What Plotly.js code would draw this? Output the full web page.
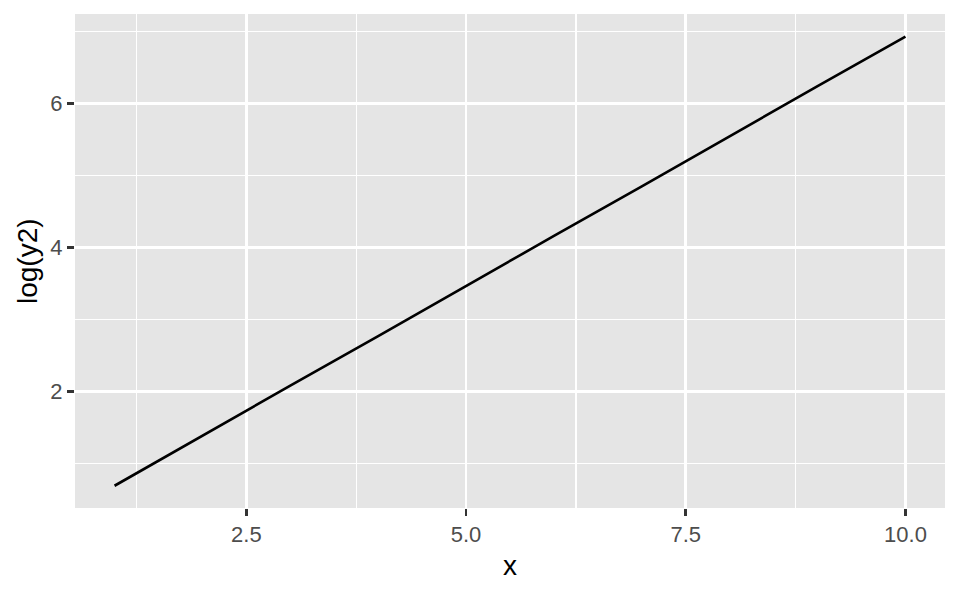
<!DOCTYPE html>
<html>
<head>
<meta charset="utf-8">
<script src="https://cdn.plot.ly/plotly-3.0.1.min.js"></script>
<style>html,body{margin:0;padding:0;background:#fff;}#chart{width:960px;height:593px;}</style>
</head>
<body>
<div id="chart"></div>
<script>
var xValues = [1, 2, 3, 4, 5, 6, 7, 8, 9, 10];
var logY2Values = [0.69, 1.39, 2.08, 2.77, 3.47, 4.16, 4.85, 5.55, 6.24, 6.93];
var xTickVals = [2.5, 5.0, 7.5, 10.0];
var xTickText = ['2.5', '5.0', '7.5', '10.0'];
var yTickVals = [2, 4, 6];
var yTickText = ['2', '4', '6'];
var xTitle = 'x';
var yTitle = 'log(y2)';

var FONT = 'Liberation Sans, Arial, Helvetica, sans-serif';

var trace = {
  x: xValues,
  y: logY2Values,
  type: 'scatter',
  mode: 'lines',
  line: {color: '#000000', width: 2.6},
  hoverinfo: 'skip'
};

var axisCommon = {
  showline: false,
  zeroline: false,
  showgrid: true,
  gridcolor: '#FFFFFF',
  gridwidth: 2.7,
  ticks: 'outside',
  ticklen: 7,
  tickwidth: 2.7,
  tickcolor: '#333333',
  tickfont: {family: FONT, size: 22, color: '#4D4D4D'},
  tickmode: 'array',
  fixedrange: true
};

var layout = {
  width: 960,
  height: 593,
  margin: {l: 75, r: 15, t: 14, b: 85, pad: 0},
  paper_bgcolor: '#FFFFFF',
  plot_bgcolor: '#E5E5E5',
  showlegend: false,
  xaxis: Object.assign({}, axisCommon, {
    range: [0.55, 10.45],
    tickvals: xTickVals,
    ticktext: xTickText,
    minor: {tick0: 1.25, dtick: 2.5, showgrid: true, gridcolor: '#FFFFFF', gridwidth: 1.4, ticks: ''}
  }),
  yaxis: Object.assign({}, axisCommon, {
    range: [0.381, 7.243],
    tickvals: yTickVals,
    ticktext: yTickText,
    minor: {tick0: 1, dtick: 2, showgrid: true, gridcolor: '#FFFFFF', gridwidth: 1.4, ticks: ''}
  }),
  annotations: [
    {
      text: xTitle, xref: 'paper', yref: 'paper', x: 0.5, y: 0,
      xanchor: 'center', yanchor: 'middle', yshift: -57.5, showarrow: false,
      font: {family: FONT, size: 28, color: '#000000'}
    },
    {
      text: yTitle, xref: 'paper', yref: 'paper', x: 0, y: 0.5,
      xanchor: 'center', yanchor: 'middle', xshift: -48, textangle: -90, showarrow: false,
      font: {family: FONT, size: 28, color: '#000000'}
    }
  ]
};

Plotly.newPlot('chart', [trace], layout, {displayModeBar: false, staticPlot: true});
</script>
</body>
</html>
